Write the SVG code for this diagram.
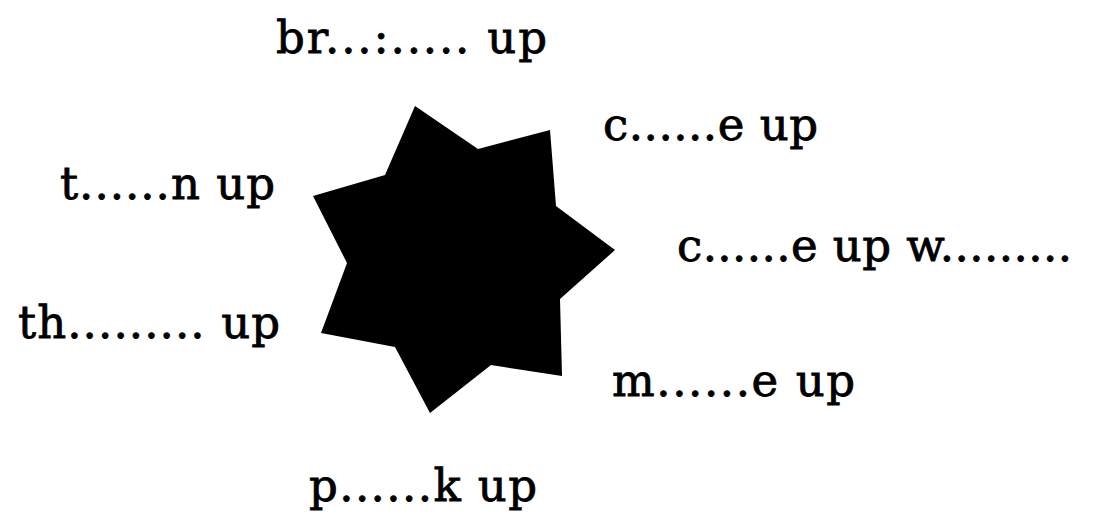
<svg xmlns="http://www.w3.org/2000/svg" width="1102" height="516" viewBox="0 0 1102 516">
<style>
.lbl{font-family:"DejaVu Serif","Liberation Serif",serif;font-size:45px;fill:#000;stroke:#000;stroke-width:0.8px}
</style>
<rect width="1102" height="516" fill="#fff"/>
<g id="star">
<polygon points="415,106 478,149 550,130 556,206 615,250 560,299 562,376 491,365 430,413 395,347 321,333 347,263 313,196 385,175" fill="#000"/>
</g>
<g id="connectors"></g>
<g id="label-br"><text class="lbl" x="276" y="53" textLength="271" lengthAdjust="spacing">br...:..... up</text></g>
<g id="label-c1"><text class="lbl" x="603" y="140" textLength="215" lengthAdjust="spacing">c......e up</text></g>
<g id="label-t"><text class="lbl" x="60" y="199" textLength="215" lengthAdjust="spacing">t......n up</text></g>
<g id="label-c2"><text class="lbl" x="677" y="261" textLength="395" lengthAdjust="spacing">c......e up w.........</text></g>
<g id="label-th"><text class="lbl" x="18" y="338" textLength="262" lengthAdjust="spacing">th......... up</text></g>
<g id="label-m"><text class="lbl" x="612" y="396" textLength="243" lengthAdjust="spacing">m......e up</text></g>
<g id="label-p"><text class="lbl" x="309" y="501" textLength="228" lengthAdjust="spacing">p......k up</text></g>
</svg>
